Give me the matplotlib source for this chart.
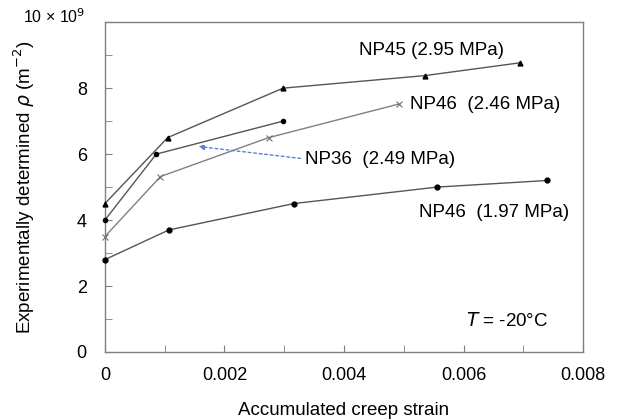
import matplotlib
matplotlib.use("Agg")
import matplotlib.pyplot as plt

plt.rcParams['font.family'] = ['Liberation Sans', 'DejaVu Sans']

# data
np45_x = [0.0, 0.00105, 0.00298, 0.00535, 0.00695]
np45_y = [4.5, 6.5, 8.0, 8.38, 8.77]
np36_x = [0.0, 0.00086, 0.00298]
np36_y = [4.0, 6.0, 7.0]
np46b_x = [0.0, 0.00093, 0.00274, 0.00492]
np46b_y = [3.5, 5.32, 6.5, 7.52]
np46a_x = [0.0, 0.00107, 0.00316, 0.00556, 0.0074]
np46a_y = [2.8, 3.7, 4.5, 5.0, 5.2]

xticks = [0, 0.002, 0.004, 0.006, 0.008]
xticklabels = ['0', '0.002', '0.004', '0.006', '0.008']
yticks = [0, 2, 4, 6, 8, 10]
yticklabels = ['0', '2', '4', '6', '8', '']

fig = plt.figure(figsize=(6.17, 4.19), dpi=100)
ax = fig.add_axes([0.170, 0.160, 0.775, 0.787])

lc = '#555555'
kw = dict(clip_on=False, zorder=3)
ax.plot(np45_x, np45_y, '-', color=lc, lw=1.0, marker='^', ms=3.5, mfc='black', mec='black', **kw)
ax.plot(np36_x, np36_y, '-', color=lc, lw=1.0, marker='o', ms=3, mfc='black', mec='black', **kw)
ax.plot(np46b_x, np46b_y, '-', color='#808080', lw=1.0, marker='x', ms=4, mec='#707070', mew=0.8, **kw)
ax.plot(np46a_x, np46a_y, '-', color=lc, lw=1.0, marker='o', ms=3.5, mfc='black', mec='black', **kw)

ax.set_xlim(0, 0.008)
ax.set_ylim(0, 10)
ax.set_xticks(xticks)
ax.set_xticklabels(xticklabels)
ax.set_xticks([0.001, 0.003, 0.005, 0.007], minor=True)
ax.set_yticks(yticks)
ax.set_yticklabels(yticklabels)
ax.set_yticks([1, 3, 5, 7, 9], minor=True)

for s in ax.spines.values():
    s.set_color('#808080')
    s.set_linewidth(1.0)
ax.tick_params(which='both', direction='in', color='#808080', labelsize=13, length=5)
ax.tick_params(axis='x', pad=11)
ax.tick_params(axis='y', pad=13)

ax.text(-0.00137, 10.18, '10 × 10$^{9}$', fontsize=11.5, ha='left', va='center',
        transform=ax.transData)

ax.set_xlabel('Accumulated creep strain', fontsize=13.5, labelpad=13)
ax.set_ylabel(r'Experimentally determined $\rho$ (m$^{-2}$)', fontsize=13.5)
ax.yaxis.set_label_coords(-0.142, 0.5)

fs = 13.5
ax.text(0.00547, 9.15, 'NP45 (2.95 MPa)', fontsize=fs, ha='center', va='center')
ax.text(0.00510, 7.5, 'NP46  (2.46 MPa)', fontsize=fs, ha='left', va='center')
ax.text(0.00335, 5.83, 'NP36  (2.49 MPa)', fontsize=fs, ha='left', va='center')
ax.text(0.00525, 4.24, 'NP46  (1.97 MPa)', fontsize=fs, ha='left', va='center')
ax.text(0.00604, 0.95, '$T$ = -20°C', fontsize=fs, ha='left', va='center')

ax.annotate('', xy=(0.00152, 6.24), xytext=(0.00332, 5.86),
            arrowprops=dict(arrowstyle='-|>', color='#5b7fd6', lw=1.0, ls=(0, (2, 2)),
                            mutation_scale=8))

fig.savefig('out.png', dpi=100)
